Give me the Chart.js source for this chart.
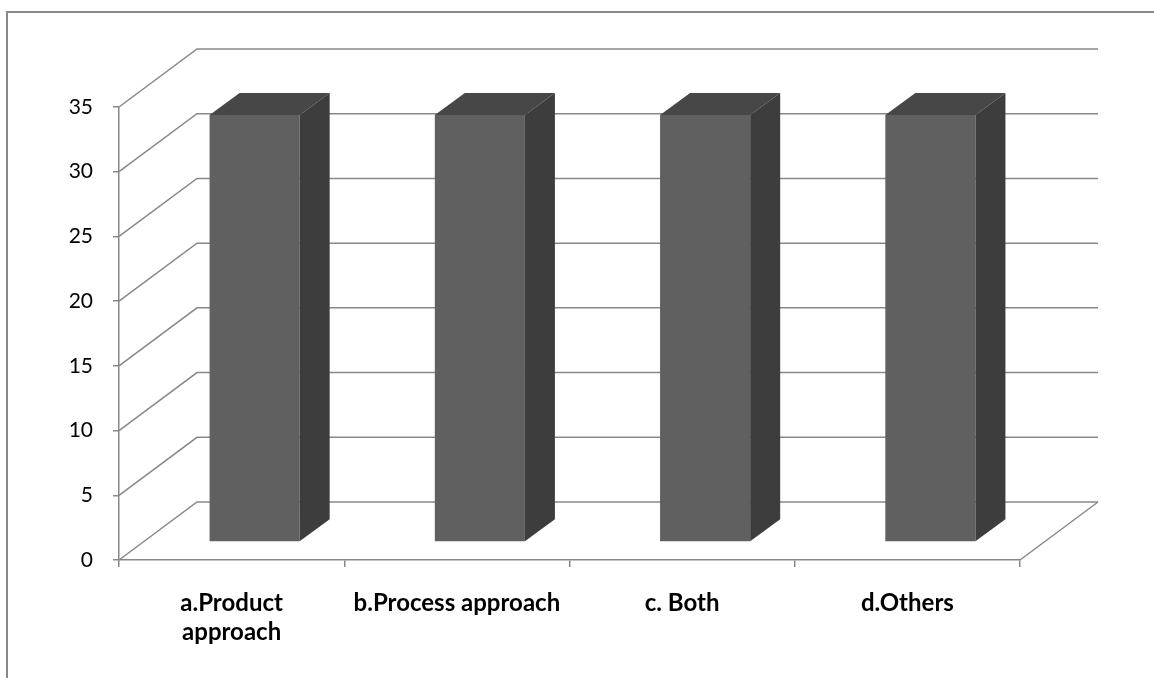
<!DOCTYPE html>
<html>
<head>
<meta charset="utf-8">
<script src="https://cdn.jsdelivr.net/npm/chart.js@4.4.0/dist/chart.umd.min.js"></script>
<style>
  html, body {
    margin: 0;
    padding: 0;
    background: #ffffff;
    overflow: hidden;
  }
</style>
</head>
<body>

<canvas id="approachChart" width="1154" height="678"></canvas>

<script>

// DATA

const categories = [
  ["a.Product", "approach"],
  "b.Process approach",
  "c. Both",
  "d.Others"
];

const responses = [33, 33, 33, 33];

const yTicks = [0, 5, 10, 15, 20, 25, 30, 35];



// 3D LOOK

const WALL_DX = 78;
const WALL_DY = -58;

const BAR_DX = 23;
const BAR_DY = -18;

const BAR_DEPTH_X = 30;
const BAR_DEPTH_Y = -22;

const LINE_COLOR = "#888888";



const threeD = {

  id: "threeD",

  beforeDraw(chart) {

    const ctx = chart.ctx;

    ctx.save();
    ctx.strokeStyle = LINE_COLOR;
    ctx.lineWidth = 2;
    ctx.strokeRect(7, 12, 1300, 800);
    ctx.restore();

  },

  beforeDatasetsDraw(chart) {

    const ctx = chart.ctx;
    const area = chart.chartArea;
    const y = chart.scales.y;

    ctx.save();
    ctx.strokeStyle = LINE_COLOR;
    ctx.lineWidth = 1.5;

    // side wall + back wall lines

    y.ticks.forEach(t => {

      const py = y.getPixelForValue(t.value);

      ctx.beginPath();
      ctx.moveTo(area.left, py);
      ctx.lineTo(area.left + WALL_DX, py + WALL_DY);
      ctx.lineTo(area.right + WALL_DX, py + WALL_DY);
      ctx.stroke();

    });

    // floor edge

    ctx.beginPath();
    ctx.moveTo(area.right, area.bottom);
    ctx.lineTo(area.right + WALL_DX, area.bottom + WALL_DY);
    ctx.stroke();

    ctx.restore();

    // push the bars back into the box

    ctx.save();
    ctx.translate(BAR_DX, BAR_DY);

  },

  afterDatasetsDraw(chart) {

    const ctx = chart.ctx;

    ctx.restore();

    const meta = chart.getDatasetMeta(0);

    meta.data.forEach(bar => {

      const left = bar.x - bar.width / 2 + BAR_DX;
      const right = bar.x + bar.width / 2 + BAR_DX;
      const top = bar.y + BAR_DY;
      const bottom = bar.base + BAR_DY;

      // top face

      ctx.fillStyle = "#474747";
      ctx.beginPath();
      ctx.moveTo(left, top);
      ctx.lineTo(left + BAR_DEPTH_X, top + BAR_DEPTH_Y);
      ctx.lineTo(right + BAR_DEPTH_X, top + BAR_DEPTH_Y);
      ctx.lineTo(right, top);
      ctx.closePath();
      ctx.fill();

      // side face

      ctx.fillStyle = "#3d3d3d";
      ctx.beginPath();
      ctx.moveTo(right, top);
      ctx.lineTo(right + BAR_DEPTH_X, top + BAR_DEPTH_Y);
      ctx.lineTo(right + BAR_DEPTH_X, bottom + BAR_DEPTH_Y);
      ctx.lineTo(right, bottom);
      ctx.closePath();
      ctx.fill();

    });

  }

};



// CHART

new Chart(
  document.getElementById("approachChart"),
  {

    type: "bar",

    data: {

      labels: categories,

      datasets: [{

        label: "Responses",

        data: responses,

        backgroundColor: "#606060",

        borderWidth: 0,

        categoryPercentage: 1,

        barPercentage: 0.4

      }]
    },

    options: {

      responsive: false,

      animation: false,

      devicePixelRatio: 1,

      layout: {
        padding: {
          top: 107,
          right: 134,
          left: 0,
          bottom: 0
        }
      },

      plugins: {

        legend: {
          display: false
        },

        tooltip: {
          enabled: false
        }

      },

      scales: {

        x: {

          afterFit: s => { s.height = 118; },

          grid: {
            drawOnChartArea: false,
            drawTicks: true,
            tickLength: 7,
            color: LINE_COLOR,
            lineWidth: 1.5
          },

          border: {
            color: LINE_COLOR,
            width: 1.5
          },

          ticks: {
            color: "#000000",
            padding: 22,
            maxRotation: 0,
            autoSkip: false,
            font: {
              family: "Lato",
              weight: "bold",
              size: 24,
              lineHeight: 1.2
            }
          }

        },

        y: {

          min: 0,

          max: 35,

          afterFit: s => { s.width = 119; },

          afterBuildTicks: s => {
            s.ticks = yTicks.map(v => ({ value: v }));
          },

          grid: {
            drawOnChartArea: false,
            drawTicks: true,
            tickLength: 6,
            color: LINE_COLOR,
            lineWidth: 1.5
          },

          border: {
            color: LINE_COLOR,
            width: 1.5
          },

          ticks: {
            color: "#000000",
            padding: 20,
            font: {
              family: "Lato",
              size: 21
            }
          }

        }

      }

    },

    plugins: [threeD]

  }
);

</script>
</body>
</html>
